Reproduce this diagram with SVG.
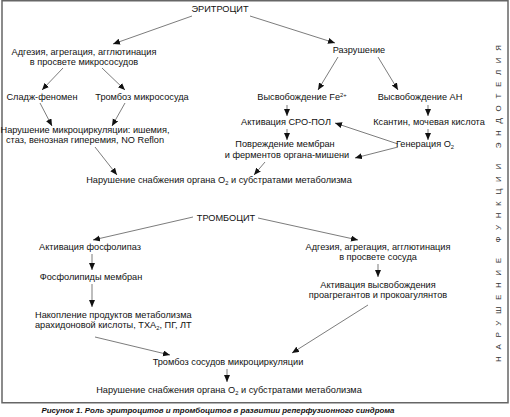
<svg xmlns="http://www.w3.org/2000/svg" width="510" height="417" viewBox="0 0 510 417">
<defs>
<style>
text{font-family:"Liberation Sans",Arial,sans-serif;font-size:9.2px;fill:#111;}
.c{text-anchor:middle;}
.sub{font-size:5.8px;}
.cap{font-size:7.9px;font-weight:bold;font-style:italic;text-anchor:middle;}
.vert{font-size:8px;fill:#333;text-anchor:middle;}
.ln{stroke:#444;stroke-width:0.7;fill:none;marker-end:url(#ah);}
</style>
<marker id="ah" markerUnits="userSpaceOnUse" markerWidth="8" markerHeight="8" refX="7" refY="3" orient="auto">
<path d="M0,0 L7,3 L0,6 Z" fill="#111"/>
</marker>
</defs>
<rect x="2" y="0.75" width="506" height="402" fill="#fff" stroke="#666" stroke-width="1.5"/>

<g id="connectors">
<line class="ln" x1="192" y1="16" x2="113" y2="44"/>
<line class="ln" x1="250" y1="16" x2="335" y2="43"/>
<line class="ln" x1="63" y1="68" x2="42" y2="90"/>
<line class="ln" x1="102" y1="68" x2="125" y2="90"/>
<line class="ln" x1="338" y1="57" x2="318" y2="90"/>
<line class="ln" x1="378" y1="57" x2="398" y2="90"/>
<line class="ln" x1="40" y1="103" x2="52" y2="126"/>
<line class="ln" x1="125" y1="103" x2="112" y2="126"/>
<line class="ln" x1="95" y1="147" x2="117" y2="175"/>
<line class="ln" x1="287" y1="105" x2="287" y2="116"/>
<line class="ln" x1="287" y1="129" x2="287" y2="140"/>
<line class="ln" x1="428" y1="105" x2="428" y2="116"/>
<line class="ln" x1="428" y1="129" x2="428" y2="140"/>
<line class="ln" x1="398" y1="144" x2="335" y2="123"/>
<line class="ln" x1="398" y1="147" x2="355" y2="158"/>
<line class="ln" x1="265" y1="162" x2="254" y2="175"/>
<line class="ln" x1="193" y1="217" x2="93" y2="240"/>
<line class="ln" x1="258" y1="218" x2="358" y2="240"/>
<line class="ln" x1="92" y1="254" x2="92" y2="270"/>
<line class="ln" x1="92" y1="284" x2="92" y2="307"/>
<line class="ln" x1="95" y1="337" x2="170" y2="355"/>
<line class="ln" x1="227" y1="369" x2="227" y2="382"/>
<line class="ln" x1="378" y1="264" x2="378" y2="277"/>
<line class="ln" x1="368" y1="305" x2="292" y2="353"/>
</g>

<g id="erythrocyte"><text class="c" x="220" y="12">ЭРИТРОЦИТ</text></g>
<g id="adhesion1"><text class="c" x="84" y="55">Адгезия, агрегация, агглютинация</text><text class="c" x="84" y="65">в просвете микрососудов</text></g>
<g id="destruction"><text class="c" x="359" y="53">Разрушение</text></g>
<g id="sludge"><text class="c" x="42" y="100">Сладж-феномен</text></g>
<g id="thrombosis1"><text class="c" x="142" y="100">Тромбоз микрососуда</text></g>
<g id="fe"><text class="c" x="302" y="100">Высвобождение Fe<tspan class="sub" dy="-3.5">2+</tspan></text></g>
<g id="an"><text class="c" x="420" y="100">Высвобождение АН</text></g>
<g id="microcirc"><text class="c" x="85" y="133">Нарушение микроциркуляции: ишемия,</text><text class="c" x="85" y="143">стаз, венозная гиперемия, NO Reflon</text></g>
<g id="sro"><text class="c" x="286" y="125">Активация СРО-ПОЛ</text></g>
<g id="xanthine"><text class="c" x="429" y="125">Ксантин, мочевая кислота</text></g>
<g id="damage"><text class="c" x="285" y="147">Повреждение мембран</text><text class="c" x="287" y="158">и ферментов органа-мишени</text></g>
<g id="generation"><text class="c" x="425" y="147">Генерация O<tspan class="sub" dy="2">2</tspan></text></g>
<g id="supply1"><text class="c" x="219" y="183">Нарушение снабжения органа O<tspan class="sub" dy="2">2</tspan><tspan dy="-2"> и субстратами метаболизма</tspan></text></g>

<g id="thrombocyte"><text class="c" x="226" y="221">ТРОМБОЦИТ</text></g>
<g id="phospholipase"><text class="c" x="90" y="250">Активация фосфолипаз</text></g>
<g id="phospholipids"><text class="c" x="91" y="280">Фосфолипиды мембран</text></g>
<g id="accum"><text x="35" y="318">Накопление продуктов метаболизма</text><text x="35" y="328">арахидоновой кислоты, TXA<tspan class="sub" dy="2">2</tspan><tspan dy="-2">, ПГ, ЛТ</tspan></text></g>
<g id="adhesion2"><text class="c" x="378" y="250">Адгезия, агрегация, агглютинация</text><text class="c" x="378" y="260">в просвете сосуда</text></g>
<g id="release"><text class="c" x="378" y="288">Активация высвобождения</text><text class="c" x="378" y="298">проагрегантов и прокоагулянтов</text></g>
<g id="thrombosis2"><text class="c" x="228" y="365">Тромбоз сосудов микроциркуляции</text></g>
<g id="supply2"><text class="c" x="229" y="393">Нарушение снабжения органа O<tspan class="sub" dy="2">2</tspan><tspan dy="-2"> и субстратами метаболизма</tspan></text></g>

<g id="endothelium"><text class="vert" x="501" y="203.5" transform="rotate(-90 501 203.5)" textLength="317" lengthAdjust="spacing">НАРУШЕНИЕ ФУНКЦИИ ЭНДОТЕЛИЯ</text></g>

<text class="cap" x="218" y="413">Рисунок 1. Роль эритроцитов и тромбоцитов в развитии реперфузионного синдрома</text>
</svg>
